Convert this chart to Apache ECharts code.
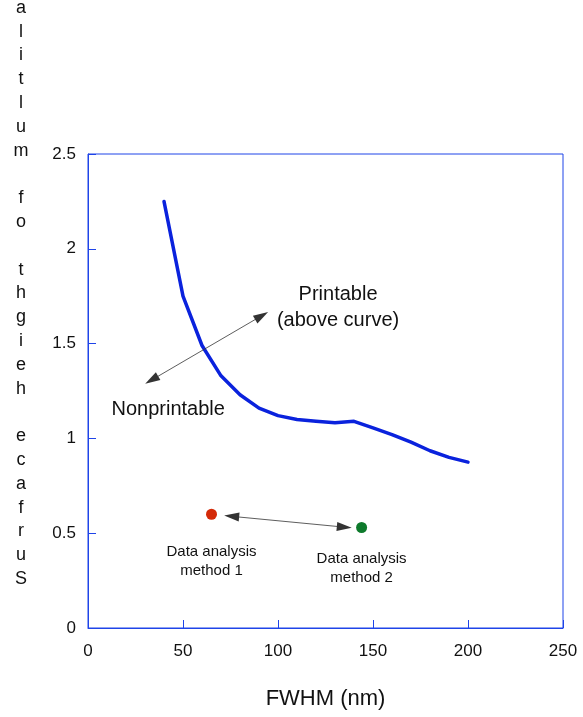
<!DOCTYPE html>
<html>
<head>
<meta charset="utf-8">
<script src="https://cdn.jsdelivr.net/npm/echarts@6/dist/echarts.min.js"></script>
<style>
  html, body { margin: 0; padding: 0; background: #fff; }
  #chart { width: 583px; height: 717px; }
</style>
</head>
<body>
<div id="chart"></div>
<script>
// curve: threshold between printable / nonprintable
var fwhm = [40, 50, 60, 70, 80, 90, 100, 110, 120, 130, 140, 150, 160, 170, 180, 190, 200];
var surfHeight = [2.25, 1.75, 1.49, 1.33, 1.23, 1.16, 1.12, 1.10, 1.09, 1.082, 1.09, 1.055, 1.02, 0.98, 0.935, 0.90, 0.875];

// the two analysis points
var methodX = [65, 144];
var methodY = [0.60, 0.53];
var methodColors = ['#d42a08', '#0e7a2c'];
var methodNames = ['Data analysis\nmethod 1', 'Data analysis\nmethod 2'];

var xTicks = [0, 50, 100, 150, 200, 250];
var yTicks = [0, 0.5, 1, 1.5, 2, 2.5];

var yName = 'Surface height of multila';

var FONT = 'Liberation Sans, Arial, Helvetica, sans-serif';
var AXIS_BLUE = '#1f44e8';

var chart = echarts.init(document.getElementById('chart'));

var labelGap = [23, 16];
var pts = methodX.map(function (x, i) {
  return {
    value: [x, methodY[i]],
    itemStyle: { color: methodColors[i], opacity: 1 },
    label: { distance: labelGap[i] }
  };
});

chart.setOption({
  animation: false,
  backgroundColor: '#fff',
  grid: {
    left: 88, right: 20, top: 154, bottom: 89,
    show: true, borderColor: AXIS_BLUE, borderWidth: 1
  },
  xAxis: {
    type: 'value',
    min: xTicks[0], max: xTicks[xTicks.length - 1], interval: 50,
    name: 'FWHM (nm)',
    nameLocation: 'middle',
    nameGap: 60,
    nameTextStyle: { fontFamily: FONT, fontSize: 22, color: '#111' },
    axisLine: { show: true, lineStyle: { color: AXIS_BLUE, width: 1 } },
    axisTick: { show: true, inside: true, length: 8, lineStyle: { color: AXIS_BLUE } },
    axisLabel: { fontFamily: FONT, fontSize: 17, color: '#111', margin: 15 },
    splitLine: { show: false }
  },
  yAxis: {
    type: 'value',
    min: yTicks[0], max: yTicks[yTicks.length - 1], interval: 0.5,
    axisLine: { show: true, lineStyle: { color: AXIS_BLUE, width: 1 } },
    axisTick: { show: true, inside: true, length: 8, lineStyle: { color: AXIS_BLUE } },
    axisLabel: { fontFamily: FONT, fontSize: 17, color: '#111', margin: 12 },
    splitLine: { show: false }
  },
  series: [
    {
      type: 'line',
      data: fwhm.map(function (x, i) { return [x, surfHeight[i]]; }),
      showSymbol: false,
      lineStyle: { color: '#0a22dd', width: 3.5, join: 'round', cap: 'round' },
      z: 3
    },
    {
      type: 'scatter',
      data: pts,
      symbolSize: 11,
      label: {
        show: true,
        position: 'bottom',
        formatter: function (p) { return methodNames[p.dataIndex]; },
        fontFamily: FONT, fontSize: 15, lineHeight: 19, color: '#111',
        align: 'center'
      },
      markLine: {
        silent: true,
        symbol: ['triangle', 'triangle'],
        symbolSize: [9, 15],
        label: { show: false },
        lineStyle: { color: '#333', width: 0.8, type: 'solid' },
        data: [
          [{ coord: [75.6, 0.589] }, { coord: [134.9, 0.532] }],
          [{ coord: [33.5, 1.308] }, { coord: [91.4, 1.647] }]
        ]
      },
      z: 4
    }
  ]
});

// annotation text placed in data coordinates
function putText(coord, text, size, lh) {
  var p = chart.convertToPixel({ seriesIndex: 0 }, coord);
  return {
    type: 'text',
    x: p[0], y: p[1],
    style: {
      text: text, font: size + 'px ' + FONT, fill: '#111',
      lineHeight: lh, align: 'center', verticalAlign: 'middle'
    }
  };
}

chart.setOption({
  graphic: [
    {
      // stacked, reversed y-axis title as in the original
      type: 'text',
      x: 21, y: 591,
      style: {
        text: yName.split('').reverse().join('\n'),
        font: '18px ' + FONT,
        fill: '#111',
        lineHeight: 23.8,
        align: 'center',
        verticalAlign: 'bottom'
      }
    },
    putText([131.6, 1.688], 'Printable\n(above curve)', 20, 26),
    putText([42.2, 1.155], 'Nonprintable', 20, 24)
  ]
});
</script>
</body>
</html>
